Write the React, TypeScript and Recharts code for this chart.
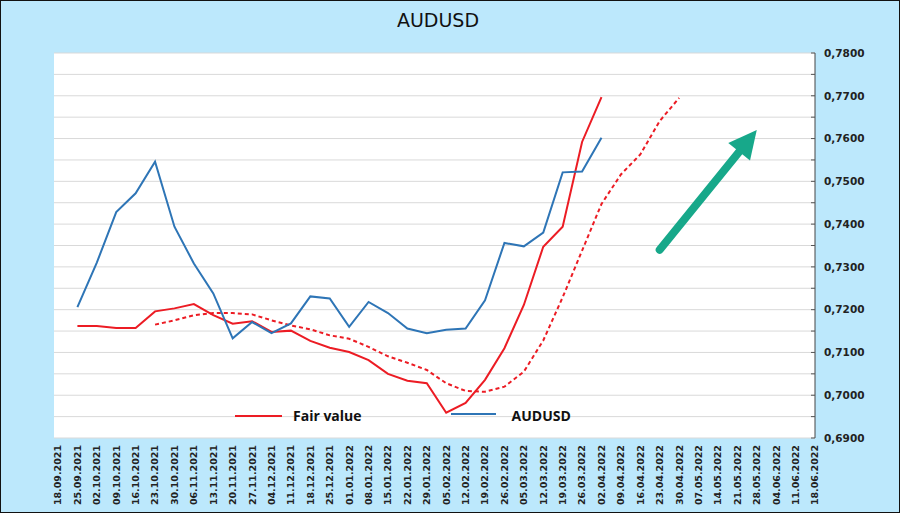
import { LineChart, Line, XAxis, YAxis, CartesianGrid, Legend, ReferenceLine } from 'recharts';

// weekly dates on the x axis
const dates = [
  '18.09.2021', '25.09.2021', '02.10.2021', '09.10.2021', '16.10.2021', '23.10.2021', '30.10.2021',
  '06.11.2021', '13.11.2021', '20.11.2021', '27.11.2021', '04.12.2021', '11.12.2021', '18.12.2021',
  '25.12.2021', '01.01.2022', '08.01.2022', '15.01.2022', '22.01.2022', '29.01.2022', '05.02.2022',
  '12.02.2022', '19.02.2022', '26.02.2022', '05.03.2022', '12.03.2022', '19.03.2022', '26.03.2022',
  '02.04.2022', '09.04.2022', '16.04.2022', '23.04.2022', '30.04.2022', '07.05.2022', '14.05.2022',
  '21.05.2022', '28.05.2022', '04.06.2022', '11.06.2022', '18.06.2022',
];

const audusd = [
  null, 0.7206, 0.7310, 0.7428, 0.7472, 0.7546, 0.7394, 0.7308, 0.7238, 0.7133,
  0.7171, 0.7145, 0.7168, 0.7231, 0.7226, 0.7160, 0.7218, 0.7192, 0.7156, 0.7145,
  0.7153, 0.7156, 0.7222, 0.7356, 0.7348, 0.7380, 0.7521, 0.7523, 0.7602,
];

const fairValue = [
  null, 0.7162, 0.7162, 0.7157, 0.7157, 0.7196, 0.7203, 0.7213, 0.7187, 0.7167,
  0.7173, 0.7148, 0.7151, 0.7127, 0.7111, 0.7101, 0.7082, 0.7050, 0.7034, 0.7028,
  0.6959, 0.6982, 0.7036, 0.7110, 0.7211, 0.7347, 0.7394, 0.7592, 0.7697,
];

// fair value shifted forward (dashed)
const fairValueShifted = [
  null, null, null, null, null, 0.7165, 0.7175, 0.7187, 0.7192, 0.7192,
  0.7189, 0.7175, 0.7163, 0.7154, 0.7140, 0.7132, 0.7113, 0.7091, 0.7076, 0.7059,
  0.7028, 0.7010, 0.7008, 0.7020, 0.7055, 0.7128, 0.7229, 0.7338, 0.7447, 0.7516,
  0.7563, 0.7641, 0.7695,
];

const yTicks = [
  0.69, 0.695, 0.7, 0.705, 0.71, 0.715, 0.72, 0.725, 0.73, 0.735,
  0.74, 0.745, 0.75, 0.755, 0.76, 0.765, 0.77, 0.775, 0.78,
];

// trend arrow: from / to
const arrowFrom = { x: '23.04.2022', y: 0.734 };
const arrowTo = { x: '28.05.2022', y: 0.762 };

const RED = '#ec1c24';
const BLUE = '#2e75b6';
const TEAL = '#17a88a';
const BG = '#bce8fc';

const data = dates.map((d, i) => ({
  date: d,
  audusd: audusd[i] ?? null,
  fair: fairValue[i] ?? null,
  fairShift: fairValueShifted[i] ?? null,
}));

function DateTick({ x, y, payload }: any) {
  return (
    <text
      x={x}
      y={y}
      transform={`rotate(-90, ${x}, ${y})`}
      textAnchor="end"
      dy="0.36em"
      fontFamily="DejaVu Sans"
      fontWeight="bold"
      fontSize={9.5}
      fill="#222"
    >
      {payload.value}
    </text>
  );
}

function PriceTick({ x, y, payload }: any) {
  const v = payload.value;
  const major = Math.round(v * 1000) % 10 === 0;
  const axisX = x - 9;
  return (
    <g>
      <line x1={axisX - 4} y1={y} x2={axisX} y2={y} stroke="#555" strokeWidth={1} />
      {major && (
        <text
          x={x}
          y={y}
          dy="0.36em"
          fontFamily="DejaVu Sans"
          fontWeight="bold"
          fontSize={10.5}
          fill="#222"
        >
          {v.toFixed(4).replace('.', ',')}
        </text>
      )}
    </g>
  );
}

function Arrow(props: any) {
  const { x1, y1, x2, y2 } = props;
  const dx = x2 - x1;
  const dy = y2 - y1;
  const len = Math.hypot(dx, dy) || 1;
  const ux = dx / len;
  const uy = dy / len;
  const nx = -uy;
  const ny = ux;
  const headLen = 28;
  const headHalf = 14;
  const bx = x2 - ux * headLen;
  const by = y2 - uy * headLen;
  const pts = [
    `${x2},${y2}`,
    `${bx + nx * headHalf},${by + ny * headHalf}`,
    `${bx - nx * headHalf},${by - ny * headHalf}`,
  ].join(' ');
  return (
    <g>
      <line x1={x1} y1={y1} x2={bx + ux * 2} y2={by + uy * 2} stroke={TEAL} strokeWidth={8} strokeLinecap="round" />
      <polygon points={pts} fill={TEAL} />
    </g>
  );
}

const renderLegend = () => (
  <div
    style={{
      display: 'flex',
      alignItems: 'center',
      fontFamily: 'Open Sans',
      fontWeight: 700,
      fontSize: 14,
      color: '#111',
      whiteSpace: 'nowrap',
    }}
  >
    <svg width={47} height={6}>
      <line x1={0} y1={3} x2={47} y2={3} stroke={RED} strokeWidth={2} />
    </svg>
    <span style={{ marginLeft: 11 }}>Fair value</span>
    <svg width={45} height={6} style={{ marginLeft: 89, marginTop: -3 }}>
      <line x1={0} y1={3} x2={45} y2={3} stroke={BLUE} strokeWidth={2} />
    </svg>
    <span style={{ marginLeft: 16 }}>AUDUSD</span>
  </div>
);

export default function App() {
  return (
    <div
      style={{
        position: 'absolute',
        left: 0,
        top: 0,
        width: 900,
        height: 513,
        background: BG,
        boxShadow: 'inset 0 0 0 1px #111',
      }}
    >
      <div
        style={{
          position: 'absolute',
          top: 9,
          left: 0,
          width: 876,
          textAlign: 'center',
          fontFamily: 'DejaVu Sans',
          fontSize: 19,
          color: '#111',
        }}
      >
        AUDUSD
      </div>
      <LineChart width={900} height={513} data={data} margin={{ top: 53, right: 0, bottom: 0, left: 54 }}>
        <CartesianGrid vertical={false} stroke="#d9d9d9" fill="#ffffff" />
        <XAxis
          dataKey="date"
          interval={0}
          axisLine={false}
          tickLine={false}
          tickSize={0}
          tickMargin={7}
          height={75}
          padding={{ left: 4, right: 0 }}
          tick={<DateTick />}
        />
        <YAxis
          orientation="right"
          width={85}
          domain={[0.69, 0.78]}
          ticks={yTicks}
          interval={0}
          axisLine={{ stroke: '#444' }}
          tickLine={false}
          tickSize={0}
          tickMargin={9}
          tick={<PriceTick />}
        />
        <Line
          dataKey="fairShift"
          stroke={RED}
          strokeWidth={2}
          strokeDasharray="4 3"
          dot={false}
          isAnimationActive={false}
          legendType="none"
        />
        <Line dataKey="fair" name="Fair value" stroke={RED} strokeWidth={2} dot={false} isAnimationActive={false} />
        <Line dataKey="audusd" name="AUDUSD" stroke={BLUE} strokeWidth={2} dot={false} isAnimationActive={false} />
        <ReferenceLine segment={[arrowFrom, arrowTo]} ifOverflow="visible" shape={Arrow} />
        <Legend
          verticalAlign="middle"
          align="center"
          layout="horizontal"
          content={renderLegend}
          wrapperStyle={{ top: 406, left: 235, width: 360 }}
        />
      </LineChart>
    </div>
  );
}
